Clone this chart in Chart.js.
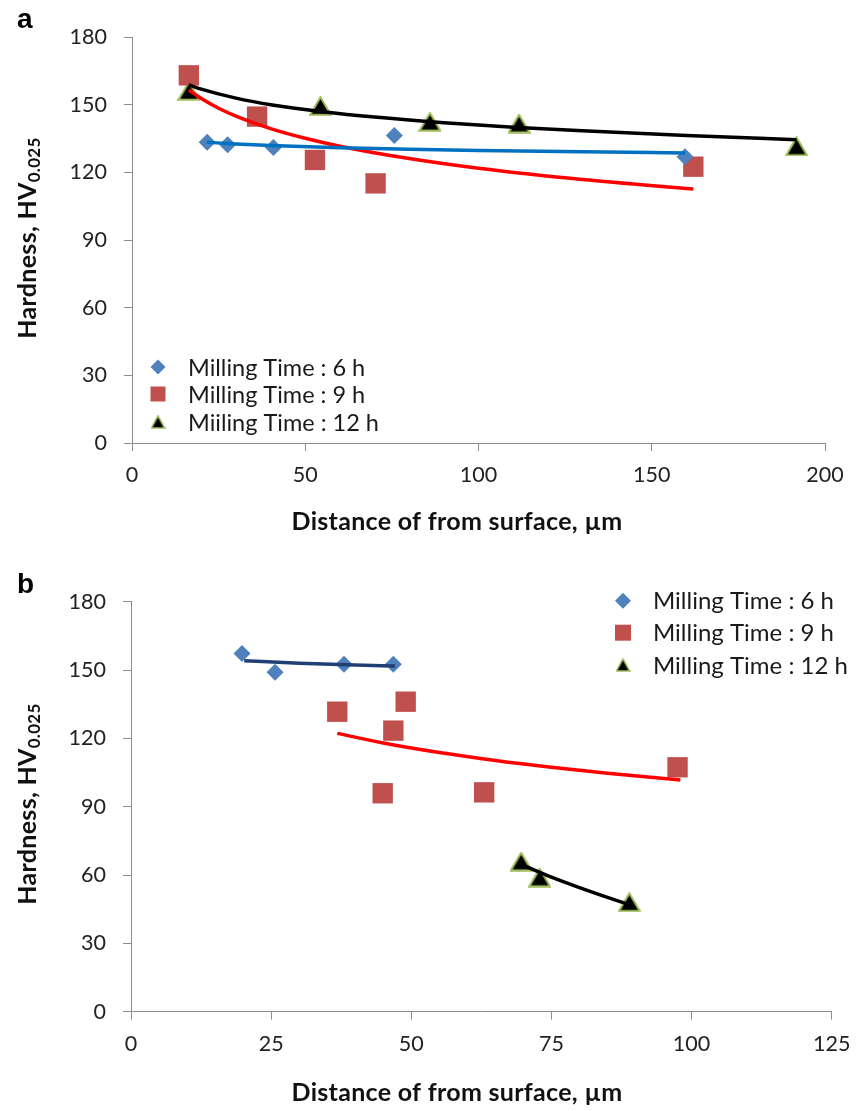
<!DOCTYPE html>
<html><head><meta charset="utf-8">
<script src="https://cdn.jsdelivr.net/npm/chart.js@4.4.0/dist/chart.umd.min.js"></script>
<style>
html,body{margin:0;padding:0;background:#fff;}
#wrap{position:relative;width:863px;height:1111px;overflow:hidden;}
canvas{position:absolute;left:0;}
</style></head><body>
<div id="wrap">
<canvas id="ca" width="863" height="555" style="top:0;width:863px;height:555px"></canvas>
<canvas id="cb" width="863" height="556" style="top:555px;width:863px;height:556px"></canvas>
</div>
<script>
// ---------- DATA ----------
const seriesNames = ['Milling Time : 6 h', 'Milling Time : 9 h', 'Milling Time : 12 h'];
const seriesNamesA = ['Milling Time : 6 h', 'Milling Time : 9 h', 'Miiling Time : 12 h'];
const xTitle = 'Distance of from surface, \u00b5m';
const yTitleMain = 'Hardness, HV';
const yTitleSub = '0.025';

// Panel a
const aYTicks = [0, 30, 60, 90, 120, 150, 180];
const aXTicks = [0, 50, 100, 150, 200];
const a6X = [21.7, 27.6, 40.8, 75.7, 159.6];
const a6Y = [133.3, 132.2, 131.0, 136.3, 126.9];
const a9X = [16.4, 36.1, 52.8, 70.3, 162.0];
const a9Y = [163.0, 144.7, 125.5, 115.1, 122.5];
const a12X = [16.4, 54.4, 86.0, 111.7, 191.8];
const a12Y = [156.1, 149.4, 142.4, 141.6, 131.5];
// trendlines
const a6TX = [21.7, 30, 40, 60, 80, 100, 130, 159.6];
const a6TY = [133.3, 132.6, 131.9, 130.9, 130.2, 129.7, 129.1, 128.6];
const a9TX = [16.4, 20, 25, 30, 40, 50, 60, 80, 100, 130, 162];
const a9TY = [156.5, 152.7, 148.4, 144.9, 139.4, 135.1, 131.6, 126.1, 121.8, 116.8, 112.6];
const a12TX = [16.4, 20, 30, 40, 55, 70, 90, 110, 130, 160, 191.8];
const a12TY = [158.8, 156.9, 152.9, 150.0, 146.9, 144.5, 142.0, 140.0, 138.4, 136.3, 134.5];

// Panel b
const bYTicks = [0, 30, 60, 90, 120, 150, 180];
const bXTicks = [0, 25, 50, 75, 100, 125];
const b6X = [19.8, 25.7, 38.0, 46.8];
const b6Y = [157.3, 149.0, 152.5, 152.5];
const b9X = [36.8, 44.9, 46.8, 49.0, 63.0, 97.5];
const b9Y = [131.7, 95.9, 123.4, 136.1, 96.3, 107.3];
const b12X = [69.6, 72.9, 88.9];
const b12Y = [65.9, 58.9, 48.1];
const b6TX = [20.2, 30, 40, 47.1];
const b6TY = [154.1, 153.0, 152.2, 151.8];
const b9TX = [36.8, 45, 55, 65, 75, 85, 98];
const b9TY = [122.2, 118.0, 113.8, 110.3, 107.3, 104.7, 101.7];
const b12TX = [70.3, 75, 80, 85, 89];
const b12TY = [63.9, 59.1, 54.5, 50.2, 46.9];

// ---------- STYLE ----------
const C6 = '#4F81BD', C9 = '#C0504D', C12 = '#000000', C12B = '#9BBB59';
const FONT = 'Lato, "Open Sans", sans-serif';
const AXIS = '#8c8c8c';

function triCanvas(w, h, lw) {
  const c = document.createElement('canvas');
  c.width = w; c.height = h;
  const g = c.getContext('2d');
  g.beginPath();
  g.moveTo(w / 2, lw * 0.6);
  g.lineTo(w - lw * 0.6, h - lw * 0.6);
  g.lineTo(lw * 0.6, h - lw * 0.6);
  g.closePath();
  g.fillStyle = C12; g.fill();
  g.lineWidth = lw; g.strokeStyle = C12B; g.lineJoin = 'miter'; g.stroke();
  return c;
}
const triBig = triCanvas(23, 20, 2);
const triLeg = triCanvas(15, 14, 1.5);

const pts = (xs, ys) => xs.map((x, i) => ({x: x, y: ys[i]}));

const annot = {
  id: 'annot',
  afterDraw(chart, args, o) {
    const ctx = chart.ctx;
    ctx.save();
    ctx.fillStyle = '#000';
    ctx.textAlign = 'left'; ctx.textBaseline = 'alphabetic';
    ctx.font = 'bold 28px "Liberation Sans", Arial, sans-serif';
    ctx.fillText(o.letter, o.letterX, o.letterY);
    ctx.font = 'bold 25px ' + FONT;
    ctx.textAlign = 'center';
    ctx.fillStyle = '#111';
    try { ctx.letterSpacing = '0.3px'; } catch (e) {}
    ctx.fillText(xTitle, o.xtX, o.xtY);
    // y title
    ctx.save();
    ctx.translate(o.ytX, o.ytY);
    ctx.rotate(-Math.PI / 2);
    ctx.font = 'bold 25px ' + FONT;
    const w1 = ctx.measureText(yTitleMain).width;
    ctx.font = 'bold 17px ' + FONT;
    const w2 = ctx.measureText(yTitleSub).width;
    const s = -(w1 + w2) / 2;
    ctx.textAlign = 'left';
    ctx.font = 'bold 25px ' + FONT;
    ctx.fillText(yTitleMain, s, 0);
    ctx.font = 'bold 17px ' + FONT;
    ctx.fillText(yTitleSub, s + w1, 4);
    ctx.restore();
    try { ctx.letterSpacing = '0px'; } catch (e) {}
    // legend
    ctx.font = o.legFont + 'px ' + FONT;
    ctx.textAlign = 'left'; ctx.textBaseline = 'middle';
    o.legend.forEach((it, i) => {
      const y = o.legY[i];
      const mx = o.legMX;
      if (i === 0) {
        const r = o.legR;
        ctx.beginPath();
        ctx.moveTo(mx, y - r); ctx.lineTo(mx + r, y); ctx.lineTo(mx, y + r); ctx.lineTo(mx - r, y);
        ctx.closePath(); ctx.fillStyle = C6; ctx.fill();
      } else if (i === 1) {
        const h = o.legS / 2;
        ctx.fillStyle = C9; ctx.fillRect(mx - h, y - h, 2 * h, 2 * h);
      } else {
        ctx.drawImage(triLeg, mx - triLeg.width / 2, y - triLeg.height / 2);
      }
      ctx.fillStyle = '#1a1a1a';
      ctx.fillText(it, o.legTX, y + 1);
    });
    ctx.restore();
  }
};

function makeChart(id, H, area, xMax, xStep, xs, ann) {
  const [a6, a9, a12, t6, t9, t12, tcol6] = xs;
  const scaleBase = {
    grid: {drawOnChartArea: false, drawTicks: true, tickLength: 8, color: AXIS, lineWidth: 1},
    border: {color: AXIS, width: 1},
  };
  return new Chart(document.getElementById(id), {
    type: 'scatter',
    data: {
      datasets: [
        {data: t6, showLine: true, pointRadius: 0, borderColor: tcol6, borderWidth: 3.5, cubicInterpolationMode: 'monotone', order: 0, clip: false},
        {data: t9, showLine: true, pointRadius: 0, borderColor: '#FF0000', borderWidth: 3.5, cubicInterpolationMode: 'monotone', order: 0, clip: false},
        {data: t12, showLine: true, pointRadius: 0, borderColor: '#000000', borderWidth: 3.5, cubicInterpolationMode: 'monotone', order: 0, clip: false},
        {data: a6, pointStyle: 'rectRot', pointRadius: 8.5, backgroundColor: C6, borderWidth: 0, order: 1, clip: false},
        {data: a9, pointStyle: 'rect', pointRadius: 14.4, backgroundColor: C9, borderWidth: 0, order: 1, clip: false},
        {data: a12, pointStyle: triBig, pointRadius: 10, backgroundColor: C12, borderWidth: 0, order: 1, clip: false},
      ]
    },
    options: {
      responsive: false, animation: false, devicePixelRatio: 1,
      layout: {padding: {left: 0, top: area.top, right: 863 - area.right, bottom: 0}},
      plugins: {legend: {display: false}, tooltip: {enabled: false}, annot: ann},
      scales: {
        x: Object.assign({}, scaleBase, {
          type: 'linear', min: 0, max: xMax,
          ticks: {stepSize: xStep, color: '#222', font: {family: FONT, size: 21.5}, padding: 11},
          afterFit: s => { s.height = H - area.bottom; }
        }),
        y: Object.assign({}, scaleBase, {
          type: 'linear', min: 0, max: 180,
          ticks: {stepSize: 30, color: '#222', font: {family: FONT, size: 21.5}, padding: 17},
          afterFit: s => { s.width = area.left; }
        })
      }
    },
    plugins: [annot]
  });
}

makeChart('ca', 555, {left: 132, top: 37, right: 825, bottom: 443}, aXTicks[aXTicks.length - 1], aXTicks[1] - aXTicks[0],
  [pts(a6X, a6Y), pts(a9X, a9Y), pts(a12X, a12Y), pts(a6TX, a6TY), pts(a9TX, a9TY), pts(a12TX, a12TY), '#0070C0'],
  {letter: 'a', letterX: 17, letterY: 28, xtX: 457, xtY: 530, ytX: 36, ytY: 238,
   legend: seriesNamesA, legY: [367, 394, 422], legMX: 158, legTX: 188, legR: 7.5, legS: 15, legFont: 23.5});

makeChart('cb', 556, {left: 131, top: 46.7, right: 831.7, bottom: 456.7}, bXTicks[bXTicks.length - 1], bXTicks[1] - bXTicks[0],
  [pts(b6X, b6Y), pts(b9X, b9Y), pts(b12X, b12Y), pts(b6TX, b6TY), pts(b9TX, b9TY), pts(b12TX, b12TY), '#213F72'],
  {letter: 'b', letterX: 17, letterY: 37.5, xtX: 457, xtY: 546, ytX: 36, ytY: 249,
   legend: seriesNames, legY: [45.7, 77.7, 110], legMX: 623, legTX: 653, legR: 8, legS: 16, legFont: 24});
</script>
</body></html>
